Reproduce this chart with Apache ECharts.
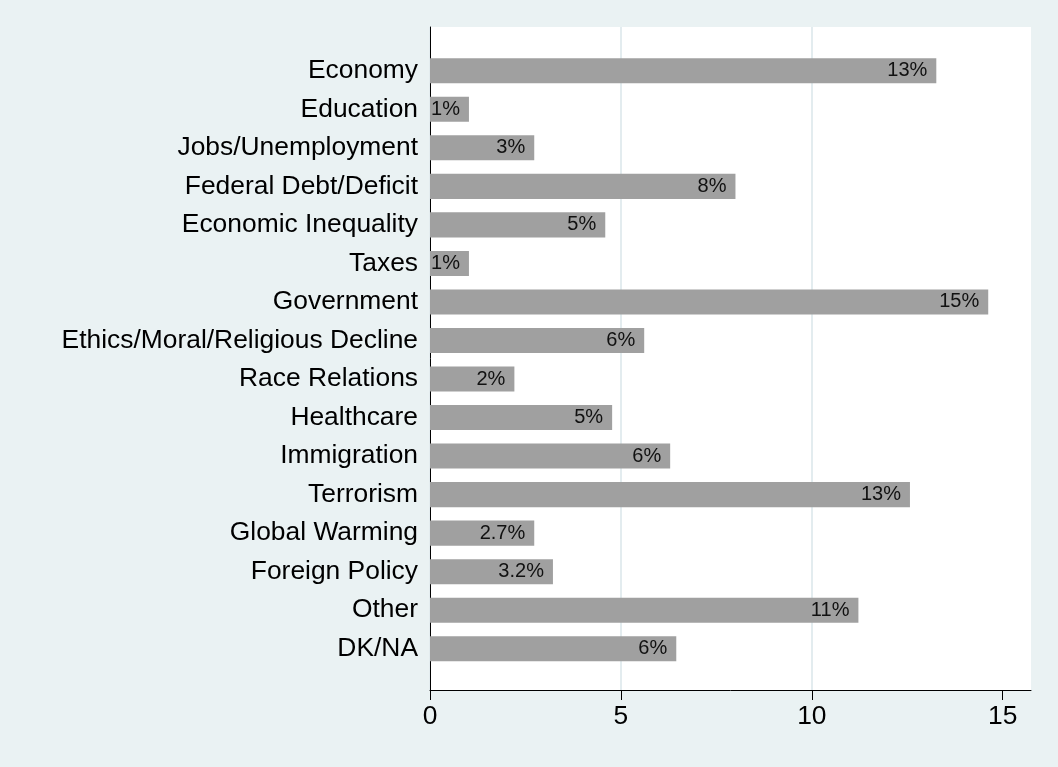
<!DOCTYPE html>
<html>
<head>
<meta charset="utf-8">
<script src="https://cdn.jsdelivr.net/npm/echarts@6/dist/echarts.min.js"></script>
<style>
html,body{margin:0;padding:0;background:#EAF2F3;}
#chart{width:1058px;height:767px;}
</style>
</head>
<body>
<div id="chart"></div>
<script>
const categories = ["Economy","Education","Jobs/Unemployment","Federal Debt/Deficit","Economic Inequality","Taxes","Government","Ethics/Moral/Religious Decline","Race Relations","Healthcare","Immigration","Terrorism","Global Warming","Foreign Policy","Other","DK/NA"];
const values = [13.26,1.02,2.73,8.0,4.59,1.02,14.62,5.61,2.21,4.77,6.29,12.57,2.73,3.22,11.22,6.45];
const barLabels = ["13%","1%","3%","8%","5%","1%","15%","6%","2%","5%","6%","13%","2.7%","3.2%","11%","6%"];
const xTicks = [0,5,10,15];

const FONT = '"Liberation Sans", Arial, Helvetica, sans-serif';
const chart = echarts.init(document.getElementById('chart'));
chart.setOption({
  backgroundColor: '#EAF2F3',
  animation: false,
  grid: [
    {left: 430, right: 27, top: 27, bottom: 77, show: true, backgroundColor: '#ffffff', borderWidth: 0},
    {left: 430, right: 27, top: 51.5, bottom: 99}
  ],
  xAxis: [
    {
      gridIndex: 0, type: 'value', min: 0, max: 15.74, interval: 5,
      axisLine: {show: true, onZero: false, lineStyle: {color: '#000', width: 1}},
      axisTick: {show: true, length: 10, lineStyle: {color: '#000', width: 1}, customValues: xTicks},
      axisLabel: {fontFamily: FONT, fontSize: 26.4, color: '#000', margin: 14, customValues: xTicks},
      splitLine: {show: true, showMaxLine: false, lineStyle: {color: '#E3ECEF', width: 2}}
    },
    {gridIndex: 1, type: 'value', min: 0, max: 15.74, show: false}
  ],
  yAxis: [
    {
      gridIndex: 0, type: 'value', min: 0, max: 1,
      axisLine: {show: true, onZero: false, lineStyle: {color: '#000', width: 1}},
      axisTick: {show: false}, axisLabel: {show: false}, splitLine: {show: false}
    },
    {
      gridIndex: 1, type: 'category', inverse: true, data: categories,
      axisLine: {show: false}, axisTick: {show: false},
      axisLabel: {fontFamily: FONT, fontSize: 26.4, color: '#000', margin: 12},
      splitLine: {show: false}
    }
  ],
  series: [{
    type: 'bar', xAxisIndex: 1, yAxisIndex: 1,
    data: values,
    barCategoryGap: '35%',
    itemStyle: {color: '#A0A0A0'},
    label: {
      show: true, position: 'insideRight', distance: 9,
      fontFamily: FONT, fontSize: 20, color: '#111',
      formatter: p => barLabels[p.dataIndex]
    }
  }]
});
</script>
</body>
</html>
